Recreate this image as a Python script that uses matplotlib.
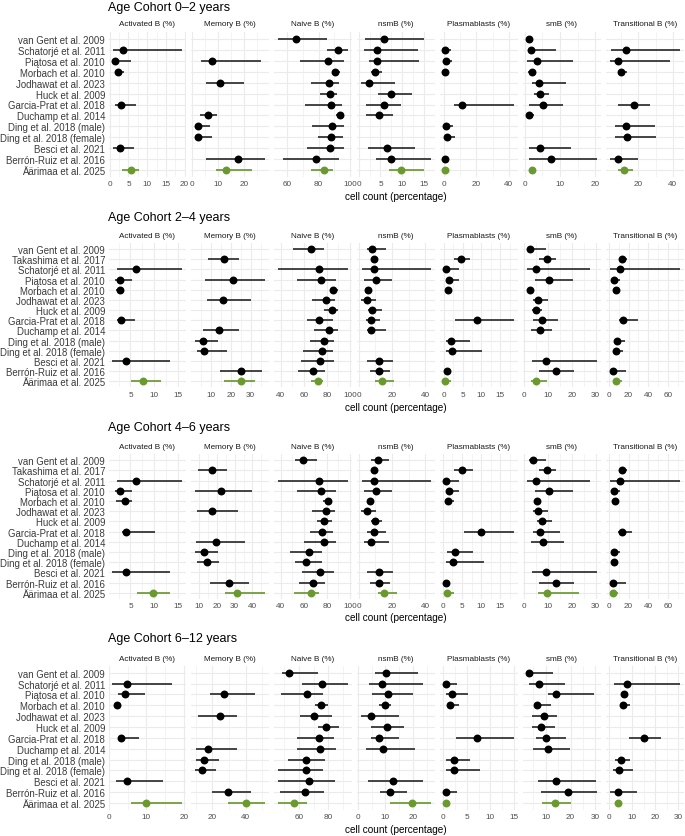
import numpy as np
import matplotlib.pyplot as plt

plt.rcParams['font.family'] = ['Liberation Sans', 'DejaVu Sans']

W, H = 685, 837

cell_types = ["Activated B (%)", "Memory B (%)", "Naive B (%)", "nsmB (%)",
              "Plasmablasts (%)", "smB (%)", "Transitional B (%)"]

studies_13 = ["van Gent et al. 2009", "Schatorjé et al. 2011", "Piątosa et al. 2010",
              "Morbach et al. 2010", "Jodhawat et al. 2023", "Huck et al. 2009",
              "Garcia-Prat et al. 2018", "Duchamp et al. 2014", "Ding et al. 2018 (male)",
              "Ding et al. 2018 (female)", "Besci et al. 2021", "Berrón-Ruiz et al. 2016",
              "Äärimaa et al. 2025"]
studies_14 = studies_13[:1] + ["Takashima et al. 2017"] + studies_13[1:]

# (estimate, low, high) per study, None where the study reports nothing
# --- 0-2 years (studies_13)
c0_2_activated = [None, (3.5, 0.9, 19.4), (1.35, 0.6, 5.8), (2.1, 1.5, 3.9), None, None,
                  (3.1, 1.3, 7.0), None, None, None, (2.6, 0.9, 6.5), None, (5.6, 3.2, 7.7)]
c0_2_memory = [None, None, (7.8, 3.5, 26.7), None, (11.0, 5.3, 20.0), None, None,
               (6.2, 3.1, 9.7), (2.4, 1.2, 7.1), (2.4, 1.5, 7.8), None, (17.7, 5.5, 28.2),
               (13.2, 9.4, 23.1)]
c0_2_naive = [(65.3, 54.0, 85.2), (92.5, 85.2, 98.9), (86.1, 68.1, 96.4), (90.6, 88.4, 93.8),
              (86.7, 75.4, 93.2), (87.2, 81.0, 91.7), (87.8, 71.1, 94.9), (93.6, 91.0, 96.4),
              (88.4, 75.6, 95.9), (87.8, 79.7, 95.7), (87.4, 72.4, 95.9), (78.2, 57.0, 92.7),
              (83.5, 75.4, 89.3)]
c0_2_nsmb = [(5.7, 1.5, 14.9), (4.1, 1.2, 13.5), (4.1, 2.4, 13.8), (3.7, 2.9, 5.4),
             (2.4, 0.5, 8.4), (7.5, 4.4, 12.2), (5.8, 1.8, 9.8), (4.7, 1.8, 7.9), None, None,
             (6.6, 2.1, 13.0), (7.3, 3.9, 16.6), (9.8, 7.0, 14.9)]
c0_2_plasma = [None, (0.6, 0.0, 4.7), (1.2, 0.2, 5.1), (0.8, 0.2, 2.4), None, None,
               (11.4, 6.1, 43.3), None, (1.6, 0.4, 5.7), (2.0, 0.6, 6.7), None,
               (0.8, 0.2, 2.4), (0.8, 0.3, 1.6)]
c0_2_smb = [(1.2, 0.6, 2.5), (1.8, 0.9, 9.0), (3.5, 0.6, 13.7), (2.0, 1.0, 3.0),
            (4.1, 2.0, 11.8), (4.3, 2.7, 6.9), (5.1, 1.3, 11.0), (1.4, 0.8, 2.8), None, None,
            (4.3, 1.4, 13.2), (7.6, 1.3, 20.5), (2.1, 1.5, 2.8)]
c0_2_transitional = [None, (12.8, 4.1, 44.3), (8.3, 3.5, 38.4), (9.9, 8.0, 13.2), None, None,
                     (17.1, 8.3, 26.8), None, (12.6, 6.0, 29.9), (13.2, 6.0, 30.3), None,
                     (8.0, 3.1, 19.6), (11.8, 8.3, 16.7)]

# --- 2-4 years (studies_14)
c2_4_activated = [None, None, (6.1, 2.2, 16.0), (2.8, 1.7, 5.4), (2.7, 2.0, 3.4), None, None,
                  (3.1, 2.2, 6.0), None, None, None, (4.1, 1.1, 13.3), None, (7.7, 5.2, 11.4)]
c2_4_memory = [None, (16.4, 8.6, 24.0), None, (21.2, 7.0, 37.4), None, (16.1, 7.8, 30.0),
               None, None, (13.9, 6.1, 24.0), (6.2, 1.9, 13.4), (6.6, 2.7, 17.9), None,
               (24.9, 14.7, 35.7), (24.9, 16.8, 32.0)]
c2_4_naive = [(66.5, 50.5, 77.9), None, (72.8, 37.7, 98.5), (75.0, 54.5, 87.9),
              (85.6, 83.0, 89.3), (79.3, 67.1, 87.3), (84.4, 77.9, 89.3), (73.6, 63.1, 85.6),
              (81.6, 69.3, 89.3), (77.3, 65.6, 86.4), (75.9, 59.4, 85.0), (74.5, 57.9, 86.4),
              (67.9, 55.1, 78.7), (72.7, 66.5, 76.5)]
c2_4_nsmb = [(8.0, 5.0, 16.2), (9.0, 7.6, 11.0), (9.2, 2.2, 43.6), (10.2, 3.0, 20.2),
             (5.6, 4.2, 7.2), (5.2, 1.2, 10.2), (8.2, 5.8, 14.2), (7.2, 4.6, 13.0),
             (7.2, 5.0, 16.6), None, None, (12.2, 5.0, 20.6), (12.2, 7.0, 18.6),
             (14.2, 9.6, 21.0)]
c2_4_plasma = [None, (4.7, 2.6, 6.9), (0.7, 0.2, 4.0), (1.4, 0.7, 4.0), (1.1, 0.5, 2.0), None,
               None, (8.8, 3.1, 18.7), None, (2.0, 0.7, 6.9), (2.2, 0.7, 10.2), None,
               (0.9, 0.35, 1.6), (0.3, 0.0, 1.8)]
c2_4_smb = [(2.3, 1.3, 9.0), (9.7, 6.3, 13.4), (4.8, 1.0, 27.7), (10.4, 4.5, 20.3),
            (2.5, 1.8, 3.4), (5.6, 3.8, 10.1), (4.8, 3.4, 7.3), (7.6, 3.8, 14.1),
            (6.6, 2.7, 11.8), None, None, (9.3, 3.1, 30.6), (13.4, 6.3, 20.7), (4.8, 2.8, 9.4)]
c2_4_transitional = [None, (13.3, 10.0, 18.3), (11.0, 1.0, 71.7), (5.0, 2.3, 11.0),
                     (7.7, 5.0, 10.3), None, None, (14.0, 10.0, 29.3), None, (8.3, 5.0, 16.0),
                     (7.3, 4.3, 14.3), None, (4.3, 1.0, 17.3), (7.7, 5.0, 13.3)]

# --- 4-6 years (studies_14)
c4_6_activated = [None, None, (6.1, 2.2, 16.0), (2.8, 1.7, 5.4), (3.8, 2.0, 5.3), None, None,
                  (4.1, 3.3, 10.1), None, None, None, (4.1, 1.1, 13.3), None, (9.7, 6.3, 13.3)]
c4_6_memory = [None, (17.3, 9.4, 25.7), None, (22.4, 7.6, 39.8), None, (17.1, 8.6, 32.0),
               None, None, (19.2, 8.0, 35.9), (12.9, 7.5, 20.6), (14.3, 8.6, 21.2), None,
               (26.7, 15.9, 37.8), (31.0, 24.7, 47.3)]
c4_6_naive = [(59.4, 52.3, 71.6), None, (72.8, 37.7, 98.5), (75.0, 54.5, 87.9),
              (81.3, 76.5, 84.4), (79.3, 67.1, 87.3), (77.9, 71.6, 84.2), (75.6, 65.1, 85.6),
              (77.9, 59.9, 87.9), (64.5, 48.5, 75.6), (62.2, 52.3, 75.6), (74.5, 58.5, 85.9),
              (67.9, 55.7, 78.5), (65.9, 51.4, 73.6)]
c4_6_nsmb = [(11.6, 7.2, 18.2), (9.0, 7.6, 11.0), (9.2, 2.2, 43.6), (10.2, 3.0, 20.2),
             (6.6, 5.2, 8.2), (5.2, 1.2, 10.2), (9.6, 7.6, 14.2), (9.2, 5.2, 16.2),
             (7.6, 3.2, 18.2), None, None, (12.2, 5.0, 20.6), (12.2, 7.0, 18.6),
             (15.2, 11.6, 23.2)]
c4_6_plasma = [None, (5.1, 2.8, 7.8), (0.7, 0.2, 4.2), (1.6, 0.7, 4.2), (1.4, 0.7, 2.8), None,
               None, (9.9, 5.6, 18.7), None, (3.1, 1.1, 7.9), (2.6, 0.9, 10.8), None,
               (0.9, 0.35, 1.8), (1.1, 0.35, 2.9)]
c4_6_smb = [(3.8, 2.1, 9.0), (9.7, 6.3, 13.4), (4.8, 1.0, 27.7), (10.4, 4.5, 20.3),
            (5.4, 4.1, 6.6), (5.6, 3.8, 10.1), (7.6, 5.2, 11.5), (6.6, 3.8, 15.1),
            (8.0, 2.8, 16.5), None, None, (9.3, 3.1, 30.6), (13.4, 6.3, 20.7), (9.4, 5.9, 23.1)]
c4_6_transitional = [None, (13.3, 10.0, 18.3), (11.0, 1.0, 71.7), (5.0, 2.3, 11.0),
                     (6.0, 3.7, 8.3), None, None, (13.3, 9.0, 23.3), None, (5.7, 3.3, 11.0),
                     (5.0, 2.7, 9.3), None, (4.3, 1.0, 17.3), (4.3, 2.3, 9.0)]

# --- 6-12 years (studies_13)
c6_12_activated = [None, (4.8, 0.8, 16.7), (4.3, 2.4, 9.6), (2.1, 1.4, 3.2), None, None,
                   (3.3, 2.3, 7.9), None, None, None, (4.8, 1.8, 14.4), None, (9.9, 5.9, 19.6)]
c6_12_memory = [None, None, (26.7, 18.6, 45.9), None, (24.7, 11.2, 34.7), None, None,
                (17.6, 9.8, 34.7), (14.9, 9.8, 23.7), (13.9, 9.4, 22.4), None,
                (29.6, 20.0, 43.5), (40.4, 29.2, 52.0)]
c6_12_naive = [(52.9, 48.5, 73.1), (75.9, 62.3, 93.8), (65.7, 47.8, 76.6), (75.4, 70.8, 80.0),
               (70.3, 60.5, 82.3), (78.2, 73.1, 87.6), (73.6, 58.9, 84.1), (74.7, 58.9, 85.1),
               (65.1, 52.4, 77.7), (65.1, 45.5, 76.6), (66.7, 45.5, 84.6), (64.4, 46.7, 77.0),
               (56.6, 45.5, 65.8)]
c6_12_nsmb = [(10.3, 6.3, 21.8), (8.8, 4.0, 23.6), (10.9, 5.2, 20.0), (9.9, 7.6, 12.1),
              (4.8, 1.0, 14.8), (10.5, 4.6, 16.7), (7.6, 4.6, 14.8), (9.1, 3.0, 20.8), None, None,
              (12.7, 3.6, 23.6), (11.8, 7.9, 17.9), (19.6, 11.8, 26.7)]
c6_12_plasma = [None, (0.7, 0.15, 3.0), (1.8, 0.7, 5.3), (1.4, 0.85, 3.4), None, None,
                (7.2, 2.8, 15.0), None, (2.3, 0.7, 5.7), (2.3, 0.7, 7.9), None,
                (0.6, 0.15, 3.0), (0.6, 0.15, 1.2)]
c6_12_smb = [(3.2, 2.3, 13.1), (7.3, 3.4, 17.8), (14.2, 11.1, 29.3), (6.6, 5.4, 12.0),
             (9.1, 4.6, 14.7), (8.1, 4.6, 13.8), (10.1, 5.9, 18.1), (11.1, 5.0, 19.9), None, None,
             (14.2, 7.0, 30.3), (18.8, 8.0, 30.7), (13.8, 8.4, 20.3)]
c6_12_transitional = [None, (8.1, 2.1, 30.7), (6.4, 5.4, 7.6), (6.0, 4.7, 9.3), None, None,
                      (15.3, 8.6, 22.4), None, (5.4, 2.6, 9.0), (4.3, 1.9, 10.4), None,
                      (4.0, 0.4, 12.1), (4.0, 2.9, 5.7)]

# axis breaks shown in each facet
ticks_0_2 = [[0, 5, 10, 15, 20], [0, 10, 20], [60, 80, 100], [0, 5, 10, 15], [0, 20, 40],
             [0, 10, 20], [20, 40]]
ticks_2_4 = [[5, 10, 15], [10, 20, 30], [40, 60, 80, 100], [0, 20, 40], [0, 5, 10, 15],
             [0, 10, 20, 30], [0, 20, 40, 60]]
ticks_4_6 = [[5, 10, 15], [10, 20, 30, 40], [40, 60, 80, 100], [0, 20, 40], [0, 5, 10, 15],
             [0, 10, 20, 30], [0, 20, 40, 60]]
ticks_6_12 = [[0, 10, 20], [20, 40], [60, 80], [0, 10, 20], [0, 5, 10, 15], [10, 20, 30],
              [0, 10, 20, 30]]

cohorts = [
    ("Age Cohort 0–2 years", studies_13,
     [c0_2_activated, c0_2_memory, c0_2_naive, c0_2_nsmb, c0_2_plasma, c0_2_smb,
      c0_2_transitional], ticks_0_2),
    ("Age Cohort 2–4 years", studies_14,
     [c2_4_activated, c2_4_memory, c2_4_naive, c2_4_nsmb, c2_4_plasma, c2_4_smb,
      c2_4_transitional], ticks_2_4),
    ("Age Cohort 4–6 years", studies_14,
     [c4_6_activated, c4_6_memory, c4_6_naive, c4_6_nsmb, c4_6_plasma, c4_6_smb,
      c4_6_transitional], ticks_4_6),
    ("Age Cohort 6–12 years", studies_13,
     [c6_12_activated, c6_12_memory, c6_12_naive, c6_12_nsmb, c6_12_plasma, c6_12_smb,
      c6_12_transitional], ticks_6_12),
]

# pixel layout of each block: title y, strip y, panel top, panel bottom, axis title y
blocks = [(7.5, 25, 33.4, 177.6, 197),
          (218, 236.7, 243.9, 388.4, 408.3),
          (428.5, 447.3, 455.2, 599.8, 618),
          (639, 659.3, 667.2, 810.5, 830.3)]

LINE = "#2E2E2E"
GREEN = "#6A9A2F"
GRID = "#EBEBEB"

left, right, gap = 108.5, 683.5, 5.5
pw = (right - left - 6 * gap) / 7


def fx(x):
    return x / W


def fy(y):
    return 1 - y / H


fig = plt.figure(figsize=(W / 100, H / 100), dpi=100, facecolor="white")

for (title, studies, panels, ticks), (ty, sy, top, bottom, ly) in zip(cohorts, blocks):
    n = len(studies)
    fig.text(fx(left), fy(ty), title, fontsize=9.0, ha="left", va="center", color="black")
    fig.text(fx((left + right) / 2), fy(ly), "cell count (percentage)", fontsize=7.2,
             ha="center", va="center", color="black")

    for j, (name, vals, tk) in enumerate(zip(cell_types, panels, ticks)):
        x0 = left + j * (pw + gap)
        ax = fig.add_axes([fx(x0), fy(bottom), pw / W, (bottom - top) / H])
        fig.text(fx(x0 + pw / 2), fy(sy), name, fontsize=5.9, ha="center", va="center",
                 color="#1A1A1A")

        lo = min(v[1] for v in vals if v)
        hi = max(v[2] for v in vals if v)
        pad = 0.05 * (hi - lo)
        ax.set_xlim(lo - pad, hi + pad)
        ax.set_ylim(n - 1 + 0.6, -0.6)

        for i, v in enumerate(vals):
            if v is None:
                continue
            last = i == n - 1
            ax.plot([v[1], v[2]], [i, i], color=GREEN if last else LINE, lw=1.25,
                    solid_capstyle="butt", zorder=2)
            ax.plot(v[0], i, "o", color=GREEN if last else "black", ms=5.7, mec="none",
                    zorder=3)

        step = tk[1] - tk[0]
        minors = np.arange(tk[0] - step / 2, tk[-1] + step, step)
        minors = minors[(minors > lo - pad) & (minors < hi + pad)]
        ax.set_xticks(tk)
        ax.set_xticklabels([str(t) for t in tk])
        ax.set_xticks(minors, minor=True)
        ax.set_yticks(range(n))
        if j == 0:
            ax.set_yticklabels(studies, fontsize=6.95, color="#3A3A3A")
        else:
            ax.tick_params(labelleft=False)

        ax.grid(which="major", color=GRID, lw=0.8)
        ax.grid(which="minor", axis="x", color=GRID, lw=0.4)
        ax.set_axisbelow(True)
        for s in ax.spines.values():
            s.set_visible(False)
        ax.tick_params(which="both", length=0)
        ax.tick_params(axis="x", labelsize=5.9, labelcolor="#4D4D4D", pad=2.3)
        ax.tick_params(axis="y", pad=2.5)
        ax.set_facecolor("white")

fig.savefig("out.png", dpi=100, facecolor="white")
